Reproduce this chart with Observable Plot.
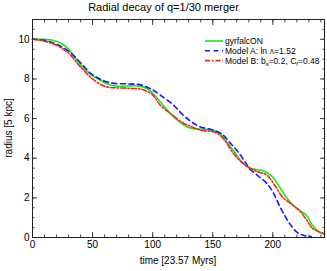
<!DOCTYPE html>
<html><head><meta charset="utf-8">
<script src="https://cdn.jsdelivr.net/npm/d3@7"></script>
<script src="https://cdn.jsdelivr.net/npm/@observablehq/plot@0.6"></script>
<style>
body{margin:0;background:#fff;font-family:"Liberation Sans",Arial,sans-serif;}
#wrap{position:relative;width:327px;height:271px;overflow:hidden;}
.t{position:absolute;white-space:nowrap;color:#000;}
</style></head><body>
<div id="wrap"></div>
<script>
// time in units of 23.57 Myrs, radius in units of 5 kpc
const tG = [0,10,15,20,25,30,35,40,45,50,56,62,68,75,85,92,97,102,107,114,121,128,135,142,150,155,160,167,173,180,187,192,197,200,205,211,217,222,228,233,238,243];
const rG = [10,10,9.98,9.9,9.75,9.5,9.12,8.72,8.4,8.17,7.95,7.76,7.66,7.63,7.66,7.6,7.45,7.15,6.8,6.3,5.9,5.6,5.48,5.47,5.4,5.3,4.95,4.4,3.9,3.52,3.42,3.37,3.2,3.05,2.6,2.05,1.62,1.37,1.12,0.62,0.3,0.15];
const tB = [0,10,20,30,40,48,56,65,79,90,100,106,117,125,132,139,150,158,164,170,176,181,188,195,200,206,210,214,220,226,232];
const rB = [10,9.95,9.75,9.4,8.82,8.3,8.0,7.8,7.75,7.7,7.45,7.2,6.7,6.2,5.85,5.6,5.43,5.2,4.8,4.4,3.9,3.45,3.1,2.73,2.3,1.54,1.1,0.7,0.27,0.1,0.05];
const tR = [0,10,20,30,40,50,56,62,70,80,92,100,106,115,125,132,139,153,160,167,174,181,188,195,202,208,215,222,228,233,238,243];
const rR = [10,9.9,9.7,9.3,8.6,8.0,7.75,7.6,7.55,7.53,7.46,7.2,6.7,6.25,5.79,5.6,5.43,5.28,4.9,4.26,3.8,3.5,3.3,3.15,2.6,2.05,1.7,1.37,0.9,0.46,0.3,0.2];
const xMajor = [0,50,100,150,200];
const yMajor = [0,2,4,6,8,10];
const title = "Radial decay of q=1/30 merger";
const xLabel = "time [23.57 Myrs]";
const yLabel = "radius [5 kpc]";

const G = tG.map((t,i)=>({t, r:rG[i]}));
const B = tB.map((t,i)=>({t, r:rB[i]}));
const R = tR.map((t,i)=>({t, r:rR[i]}));
const xMinor = d3.range(0,243,10);
const yMinor = d3.range(0,11.01,0.5);
const none = () => "";

const plot = Plot.plot({
  width:327, height:271,
  marginLeft:32, marginRight:3, marginTop:19, marginBottom:34,
  style:{fontFamily:"Liberation Sans, Arial, sans-serif", fontSize:"10px", color:"#000", background:"#fff"},
  x:{domain:[0,243]},
  y:{domain:[0,11]},
  marks:[
    Plot.line(G,{x:"t",y:"r",stroke:"#11ee11",strokeWidth:1.6,curve:"catmull-rom"}),
    Plot.line(B,{x:"t",y:"r",stroke:"#1a1aff",strokeWidth:1.6,strokeDasharray:"5,3.5",curve:"catmull-rom"}),
    Plot.line(R,{x:"t",y:"r",stroke:"#ff2020",strokeWidth:1.6,strokeDasharray:"5,2,1.5,2",curve:"catmull-rom"}),
    Plot.axisX({anchor:"bottom",ticks:xMajor,tickSize:-5,tickPadding:8,label:null,stroke:"#444"}),
    Plot.axisX({anchor:"bottom",ticks:xMinor,tickSize:-2.5,tickFormat:none,label:null,stroke:"#444"}),
    Plot.axisX({anchor:"top",ticks:xMajor,tickSize:-5,tickFormat:none,label:null,stroke:"#444"}),
    Plot.axisX({anchor:"top",ticks:xMinor,tickSize:-2.5,tickFormat:none,label:null,stroke:"#444"}),
    Plot.axisY({anchor:"left",ticks:yMajor,tickSize:-5,tickPadding:8,label:null,stroke:"#444"}),
    Plot.axisY({anchor:"left",ticks:yMinor,tickSize:-2.5,tickFormat:none,label:null,stroke:"#444"}),
    Plot.axisY({anchor:"right",ticks:yMajor,tickSize:-5,tickFormat:none,label:null,stroke:"#444"}),
    Plot.axisY({anchor:"right",ticks:yMinor,tickSize:-2.5,tickFormat:none,label:null,stroke:"#444"}),
    Plot.frame({stroke:"#222",strokeWidth:1})
  ]
});
const wrap = document.getElementById("wrap");
wrap.appendChild(plot);

function addText(html, css){
  const d = document.createElement("div");
  d.className = "t";
  d.innerHTML = html;
  Object.assign(d.style, css);
  wrap.appendChild(d);
  return d;
}
addText(title,{left:"0",width:"327px",textAlign:"center",top:"1px",fontSize:"11px"});
addText(xLabel,{left:"32px",width:"292px",textAlign:"center",top:"255px",fontSize:"10px"});
addText(yLabel,{left:"8px",top:"128px",fontSize:"10px",transform:"translate(-50%,-50%) rotate(-90deg)",transformOrigin:"center"});

// legend
const legendItems = [
  {label:"gyrfalcON", color:"#11ee11", dash:null},
  {label:"Model A: ln <tspan font-size='7'>Λ</tspan>=1.52", color:"#1a1aff", dash:"5,3.5"},
  {label:"Model B: b<tspan font-size='6' dy='2'>s</tspan><tspan dy='-2'>=0.2, C</tspan><tspan font-size='6' dy='2'>f</tspan><tspan dy='-2'>=0.48</tspan>", color:"#ff2020", dash:"5,2,1.5,2"}
];
const ns = "http://www.w3.org/2000/svg";
const lg = document.createElementNS(ns,"svg");
lg.setAttribute("width","120"); lg.setAttribute("height","34");
lg.style.position="absolute"; lg.style.left="203px"; lg.style.top="34px";
legendItems.forEach((it,i)=>{
  const y = 7 + i*9.8;
  const l = document.createElementNS(ns,"line");
  l.setAttribute("x1","2"); l.setAttribute("x2","20");
  l.setAttribute("y1",y); l.setAttribute("y2",y);
  l.setAttribute("stroke",it.color); l.setAttribute("stroke-width","1.6");
  if(it.dash) l.setAttribute("stroke-dasharray",it.dash);
  lg.appendChild(l);
  const t = document.createElementNS(ns,"text");
  t.setAttribute("x","22"); t.setAttribute("y",y+3);
  t.setAttribute("font-size","8.5"); t.setAttribute("font-family","Liberation Sans, Arial, sans-serif");
  t.innerHTML = it.label;
  lg.appendChild(t);
});
wrap.appendChild(lg);
</script>
</body></html>
